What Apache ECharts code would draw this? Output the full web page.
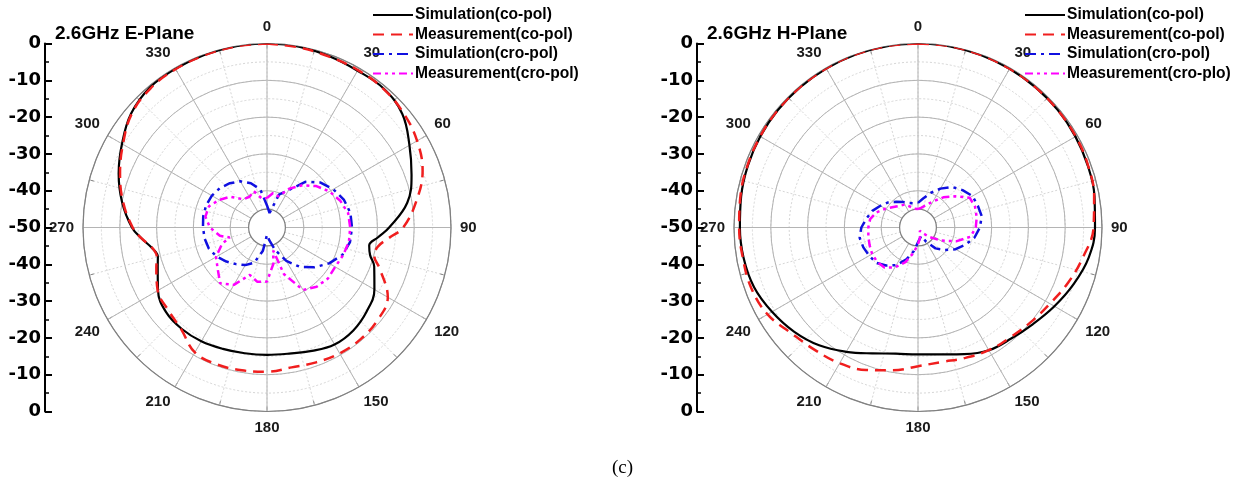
<!DOCTYPE html>
<html><head><meta charset="utf-8">
<script src="https://cdn.jsdelivr.net/npm/echarts@6/dist/echarts.min.js"></script>
<style>html,body{margin:0;padding:0;background:#fff}#c{width:1245px;height:486px}</style>
</head><body><div id="c"></div><script>
// ---------- data ----------
const titles = ['2.6GHz E-Plane', '2.6GHz H-Plane'];
const legendNamesE = ['Simulation(co-pol)', 'Measurement(co-pol)', 'Simulation(cro-pol)', 'Measurement(cro-pol)'];
const legendNamesH = ['Simulation(co-pol)', 'Measurement(co-pol)', 'Simulation(cro-pol)', 'Measurement(cro-plo)'];
const dbTickLabels = ['0', '-10', '-20', '-30', '-40', '-50', '-40', '-30', '-20', '-10', '0'];
const caption = '(c)';

const angECo = [0,10,20,30,40,50,60,70,80,90,95,100,105,110,120,130,140,150,160,170,180,190,200,210,220,230,240,250,255,260,265,270,280,290,300,310,320,330,340,350,360];
const eSimCo = [0,-0.1,-0.5,-0.8,-0.7,-2.0,-5.3,-8.2,-11.3,-16.8,-19.7,-21.8,-21.0,-19.0,-16.3,-14.6,-13.5,-13.3,-14.3,-15.2,-15.4,-15.3,-14.9,-14.3,-14.0,-14.2,-15.8,-18.4,-19.3,-18.2,-15.8,-13.3,-10.0,-7.1,-4.5,-1.8,-0.4,-0.2,-0.1,0,0];
const eMeasCo = [0,-0.3,-0.6,-0.6,-0.8,-1.6,-2.9,-5.0,-8.8,-13.0,-16.8,-19.5,-19.8,-17.4,-12.1,-10.8,-10.4,-10.5,-11.0,-11.4,-10.8,-10.6,-10.4,-10.8,-13.8,-15.0,-15.7,-18.0,-19.0,-18.3,-15.8,-13.5,-10.3,-7.5,-4.8,-2.0,-0.7,-0.3,-0.2,-0.1,0];

const ang10 = [0,10,20,30,40,50,60,70,80,90,100,110,120,130,140,150,160,170,180,190,200,210,220,230,240,250,260,270,280,290,300,310,320,330,340,350,360];
const eSimCross = [-44,-46,-40.5,-38.3,-33.8,-31,-29.2,-27.8,-27,-26.9,-27.1,-28.2,-30.5,-33.2,-36,-39.5,-43.5,-46.5,-48,-43.6,-39.8,-38.2,-37,-35.6,-34.2,-33.2,-32.8,-32.6,-32.4,-32.4,-32.7,-33.3,-34.3,-35.5,-37.2,-39.5,-44];
const angEMC = [0,10,20,30,40,50,60,70,80,90,100,110,120,130,140,150,160,165,170,180,190,200,210,220,230,240,250,255,260,270,280,290,300,310,320,330,340,350,360];
const eMeasCross = [-42,-40.5,-41,-37.8,-35,-32.5,-30.4,-28.8,-27.6,-27.4,-27.4,-28,-28.6,-28.4,-29,-30.4,-36.5,-43.5,-40,-35.3,-35,-36.3,-32,-30.2,-32.5,-34,-37,-39.5,-37,-34.5,-33,-33.2,-35,-37,-40,-40.4,-39.5,-42,-42];

const hSimCo = [0,0,-0.1,-0.2,-0.3,-0.4,-0.6,-0.9,-1.3,-1.9,-2.9,-5.0,-7.2,-9.2,-10.6,-11.5,-13.4,-15.0,-15.5,-15.2,-13.6,-11.0,-8.2,-6.0,-4.2,-2.6,-1.9,-1.6,-1.2,-0.8,-0.5,-0.3,-0.2,-0.1,0,0,0];
const hMeasCo = [0,0,-0.1,-0.2,-0.3,-0.4,-0.5,-0.8,-1.4,-2.3,-4.4,-6.5,-8.6,-10.0,-11.0,-11.5,-12.3,-12.9,-12.3,-10.6,-8.8,-7.4,-6.5,-5.2,-2.8,-1.8,-1.7,-1.4,-1.0,-0.7,-0.5,-0.3,-0.2,-0.1,0,0,0];
const hSimCross = [-43.3,-42,-40,-37.8,-35.6,-34.2,-32.9,-32.7,-32.4,-33.2,-34.4,-36.3,-38.2,-40.5,-42.6,-45.5,-47.5,-47,-46,-43.5,-40.8,-38.2,-36.5,-35.1,-34.7,-34.2,-33.9,-34.6,-35.8,-36.8,-38.2,-39.4,-40.9,-42,-42.9,-43.3,-43.3];
const hMeasCross = [-45,-44.5,-43.5,-41.8,-39.3,-36.8,-33.8,-33.5,-33.8,-34.3,-35.5,-39,-43,-46,-48,-49,-48.5,-47,-45.5,-43,-40,-37.5,-35.8,-35.5,-35.6,-36,-36.3,-36.5,-36.8,-38,-39.8,-41.3,-42.3,-42.8,-44,-44.8,-45];

// ---------- layout ----------
const R = 184, CY = 227.5;
const charts = [
  { cx: 267, axisX: 45, titleX: 55, legendX: 372, names: legendNamesE,
    series: [[angECo, eSimCo], [angECo, eMeasCo], [ang10, eSimCross], [angEMC, eMeasCross]] },
  { cx: 918, axisX: 697, titleX: 707, legendX: 1024, names: legendNamesH,
    series: [[ang10, hSimCo], [ang10, hMeasCo], [ang10, hSimCross], [ang10, hMeasCross]] }
];
const styles = [
  { color: '#000000', width: 2.2, type: 'solid', smooth: 0.4 },
  { color: '#f01e1e', width: 2.5, type: [11, 7], smooth: 0.4 },
  { color: '#1010e0', width: 2.5, type: [11, 5, 3, 5], smooth: false },
  { color: '#ff00ff', width: 2.5, type: [8, 4, 3, 4, 3, 4], smooth: false }
];
const FONT = 'Liberation Sans, Arial, sans-serif';
const AXFONT = 'DejaVu Sans, sans-serif';

const polar = [], angleAxis = [], radiusAxis = [], series = [], grid = [], xAxis = [], yAxis = [], title = [], legend = [];
const noAxis = { axisLine: { show: false }, axisTick: { show: false }, axisLabel: { show: false }, splitLine: { show: false } };

charts.forEach((c, ci) => {
  const base = polar.length;
  // 0: data polar
  polar.push({ center: [c.cx, CY], radius: R });
  angleAxis.push(Object.assign({ polarIndex: base, min: 0, max: 360, startAngle: 90, clockwise: true }, noAxis));
  radiusAxis.push(Object.assign({ polarIndex: base, min: -50, max: 0 }, noAxis));
  // 1: minor grid (dotted)
  polar.push({ center: [c.cx, CY], radius: [R * 0.1, R] });
  angleAxis.push({ polarIndex: base + 1, min: 0, max: 360, interval: 15, startAngle: 90, clockwise: true,
    axisLine: { show: false }, axisLabel: { show: false },
    axisTick: { show: true, inside: true, length: 5, lineStyle: { color: '#777', width: 1 } },
    splitLine: { show: true, lineStyle: { color: '#d6d6d6', type: [2, 2], width: 1 } } });
  radiusAxis.push({ polarIndex: base + 1, min: -45, max: 0, interval: 5,
    axisLine: { show: false }, axisTick: { show: false }, axisLabel: { show: false },
    splitLine: { show: true, lineStyle: { color: '#d6d6d6', type: [2, 2], width: 1 } } });
  // 2: major rings
  polar.push({ center: [c.cx, CY], radius: [R * 0.2, R] });
  angleAxis.push(Object.assign({ polarIndex: base + 2, min: 0, max: 360, startAngle: 90 }, noAxis));
  radiusAxis.push({ polarIndex: base + 2, min: -40, max: 0, interval: 10,
    axisLine: { show: false }, axisTick: { show: false }, axisLabel: { show: false },
    splitLine: { show: true, lineStyle: { color: '#b4b4b4', width: 1 } } });
  // 3: spokes + outer circle + labels
  polar.push({ center: [c.cx, CY], radius: [R * 0.1, R] });
  angleAxis.push({ polarIndex: base + 3, min: 0, max: 360, interval: 30, startAngle: 90, clockwise: true,
    axisLine: { show: true, lineStyle: { color: '#808080', width: 1.2 } },
    axisTick: { show: false },
    axisLabel: { show: true, margin: 9, color: '#1a1a1a', fontFamily: FONT, fontWeight: 'bold', fontSize: 15,
      formatter: v => (v === 360 ? '' : String(v)) },
    splitLine: { show: true, lineStyle: { color: '#b4b4b4', width: 1 } } });
  radiusAxis.push(Object.assign({ polarIndex: base + 3, min: -45, max: 0 }, noAxis));

  c.series.forEach((sd, si) => {
    const st = styles[si];
    series.push({
      name: c.names[si], type: 'line', coordinateSystem: 'polar', polarIndex: base,
      data: sd[0].map((a, i) => [sd[1][i], a]),
      showSymbol: false, symbol: 'none', smooth: st.smooth, z: 5 + si,
      lineStyle: { color: st.color, width: st.width, type: st.type },
      itemStyle: { color: st.color }, animation: false
    });
  });

  // left dB axis
  grid.push({ left: c.axisX, top: CY - R, width: 1, height: 2 * R, show: false });
  xAxis.push({ gridIndex: ci, show: false, type: 'value' });
  yAxis.push({ gridIndex: ci, type: 'value', min: 0, max: 100, interval: 10,
    axisLine: { show: true, lineStyle: { color: '#000', width: 2 } },
    axisTick: { show: true, inside: true, length: 7, lineStyle: { color: '#000', width: 2 } },
    minorTick: { show: true, splitNumber: 2, length: 4, lineStyle: { color: '#000', width: 1.5 } },
    splitLine: { show: false },
    axisLabel: { margin: 4, color: '#000', fontFamily: AXFONT, fontWeight: 'bold', fontSize: 18,
      formatter: v => dbTickLabels[Math.round(v / 10)] } });

  title.push({ text: titles[ci], left: c.titleX, top: 24, padding: 0,
    textStyle: { fontFamily: FONT, fontWeight: 'bold', fontSize: 19, color: '#000' } });

  legend.push({ data: c.names, orient: 'vertical', left: c.legendX, top: 7, padding: 0,
    itemWidth: 40, itemHeight: 14, itemGap: 3.5, selectedMode: false,
    itemStyle: { opacity: 0 },
    textStyle: { fontFamily: FONT, fontWeight: 'bold', fontSize: 15.6, color: '#000', padding: [0, 0, 0, -3] } });
});

title.push({ text: caption, left: 'center', top: 459, padding: 0,
  textStyle: { fontFamily: 'Liberation Serif, Times New Roman, serif', fontWeight: 'normal', fontSize: 19, color: '#000' } });

const chart = echarts.init(document.getElementById('c'), null, { renderer: 'canvas' });
chart.setOption({ animation: false, backgroundColor: '#fff', title, legend, polar, angleAxis, radiusAxis, grid, xAxis, yAxis, series });
</script></body></html>
